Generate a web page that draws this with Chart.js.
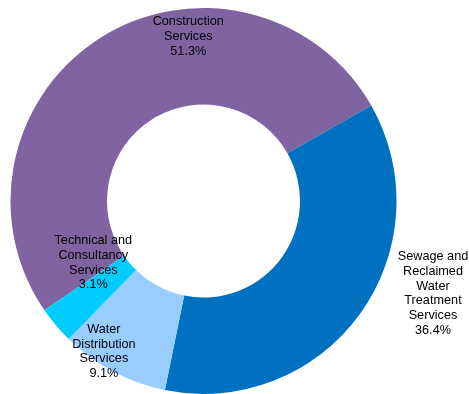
<!DOCTYPE html>
<html>
<head>
<meta charset="utf-8">
<script src="https://cdn.jsdelivr.net/npm/chart.js@4/dist/chart.umd.min.js"></script>
<style>
  html, body { margin: 0; padding: 0; background: #fff; }
  #wrap { width: 469px; height: 394px; position: relative; }
</style>
</head>
<body>
<div id="wrap"><canvas id="services-chart"></canvas></div>
<script>
// categories, split into the lines shown on the chart
const categories = [
    ['Construction', 'Services'],
    ['Sewage and', 'Reclaimed', 'Water', 'Treatment', 'Services'],
    ['Water', 'Distribution', 'Services'],
    ['Technical and', 'Consultancy', 'Services']
];
// share of each category, percent
const shares = [51.3, 36.4, 9.1, 3.1];
const sliceColors = ['#8064A2', '#0070C0', '#99CCFF', '#00CCFF'];

// where each label block sits, relative to the doughnut centre, in outer radius units
const labelOffsets = [
    [-0.079, -0.853],
    [1.189, 0.479],
    [-0.516, 0.780],
    [-0.571, 0.319]
];

const sliceLabels = {
    id: 'sliceLabels',
    afterDatasetsDraw(chart) {
        const ctx = chart.ctx;
        const arcs = chart.getDatasetMeta(0).data;
        ctx.save();
        ctx.font = '12.7px "Liberation Sans", Arial, sans-serif';
        ctx.fillStyle = '#000';
        ctx.textAlign = 'center';
        ctx.textBaseline = 'middle';
        const lineH = 14.9;
        arcs.forEach((arc, i) => {
            const lines = categories[i].concat([shares[i].toFixed(1) + '%']);
            const cx = arc.x + labelOffsets[i][0] * arc.outerRadius;
            const cy = arc.y + labelOffsets[i][1] * arc.outerRadius;
            const top = cy - (lines.length - 1) * lineH / 2;
            lines.forEach((line, j) => ctx.fillText(line, cx, top + j * lineH));
        });
        ctx.restore();
    }
};

new Chart(document.querySelector('#services-chart').getContext('2d'), {
    type: 'doughnut',
    data: {
        labels: categories.map(c => c.join(' ')),
        datasets: [{
            data: shares,
            backgroundColor: sliceColors,
            borderWidth: 0
        }]
    },
    options: {
        responsive: true,
        maintainAspectRatio: false,
        animation: false,
        rotation: 235.5,
        cutout: '50%',
        layout: { padding: { left: 10, right: 72, top: 8, bottom: 0 } },
        plugins: {
            legend: { display: false },
            tooltip: { enabled: false }
        }
    },
    plugins: [sliceLabels]
});
</script>
</body>
</html>
